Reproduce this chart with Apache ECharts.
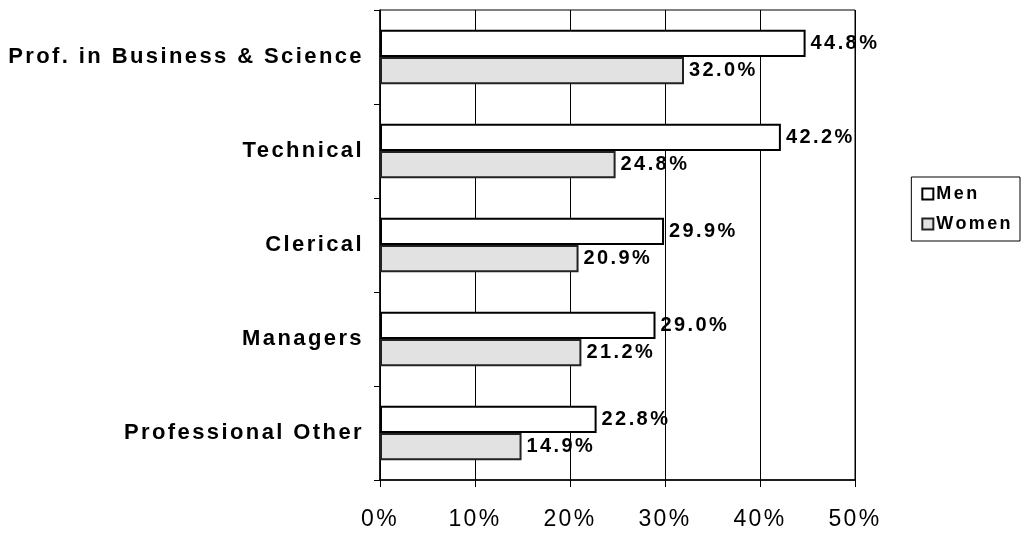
<!DOCTYPE html>
<html>
<head>
<meta charset="utf-8">
<script src="https://cdn.jsdelivr.net/npm/echarts@6/dist/echarts.min.js"></script>
<style>
html, body { margin: 0; padding: 0; background: #fff; }
#chart { width: 1023px; height: 533px; }
</style>
</head>
<body>
<div id="chart"></div>
<script>
// data, top to bottom
var categories = ['Prof. in Business & Science', 'Technical', 'Clerical', 'Managers', 'Professional Other'];
var men = [44.8, 42.2, 29.9, 29.0, 22.8];
var women = [32.0, 24.8, 20.9, 21.2, 14.9];
var xTicks = [0, 10, 20, 30, 40, 50];

// the scanned original has widely spaced bold lettering
var origFill = CanvasRenderingContext2D.prototype.fillText;
CanvasRenderingContext2D.prototype.fillText = function (t, x, y, w) {
    var prev = this.letterSpacing;
    if (/bold|700/.test(this.font)) this.letterSpacing = '2.4px';
    if (w === undefined) origFill.call(this, t, x, y);
    else origFill.call(this, t, x, y, w);
    this.letterSpacing = prev;
};

var chart = echarts.init(document.getElementById('chart'));
var font = 'Liberation Sans, Arial, sans-serif';

function valueLabel() {
    return {
        show: true,
        position: 'right',
        distance: 5,
        fontFamily: font,
        fontWeight: 'bold',
        fontSize: 20,
        color: '#000',
        formatter: function (p) { return p.value.toFixed(1) + '%'; }
    };
}

chart.setOption({
    backgroundColor: '#fff',
    animation: false,
    grid: {
        left: 380,
        right: 168,
        top: 10,
        bottom: 53,
        show: true,
        borderColor: '#000',
        borderWidth: 1
    },
    legend: {
        orient: 'vertical',
        right: 3,
        top: 177,
        icon: 'rect',
        itemWidth: 11,
        itemHeight: 11,
        itemGap: 12,
        padding: [8, 19, 8, 10],
        borderColor: '#000',
        borderWidth: 1,
        textStyle: { fontFamily: font, fontWeight: 'bold', fontSize: 18, color: '#000', padding: [0, 0, 0, -2] },
        data: ['Men', 'Women']
    },
    xAxis: {
        type: 'value',
        min: xTicks[0],
        max: xTicks[xTicks.length - 1],
        interval: 10,
        axisLine: { show: true, lineStyle: { color: '#000', width: 1.5 } },
        axisTick: { show: true, length: 7, lineStyle: { color: '#000' } },
        axisLabel: {
            margin: 28,
            fontFamily: font,
            fontSize: 23,
            color: '#000',
            formatter: '{value}%'
        },
        splitLine: { show: true, lineStyle: { color: '#000', width: 1 } }
    },
    yAxis: {
        type: 'category',
        inverse: true,
        data: categories,
        axisLine: { show: true, lineStyle: { color: '#000', width: 1.5 } },
        axisTick: { show: true, length: 6, lineStyle: { color: '#000' } },
        axisLabel: {
            margin: 16,
            fontFamily: font,
            fontWeight: 'bold',
            fontSize: 22,
            color: '#000'
        }
    },
    series: [
        {
            name: 'Men',
            type: 'bar',
            data: men,
            barGap: '0%',
            barCategoryGap: '42%',
            itemStyle: { color: '#fff', borderColor: '#000', borderWidth: 2 },
            label: valueLabel()
        },
        {
            name: 'Women',
            type: 'bar',
            data: women,
            itemStyle: { color: '#e2e2e2', borderColor: '#222', borderWidth: 2 },
            label: valueLabel()
        }
    ]
});
</script>
</body>
</html>
